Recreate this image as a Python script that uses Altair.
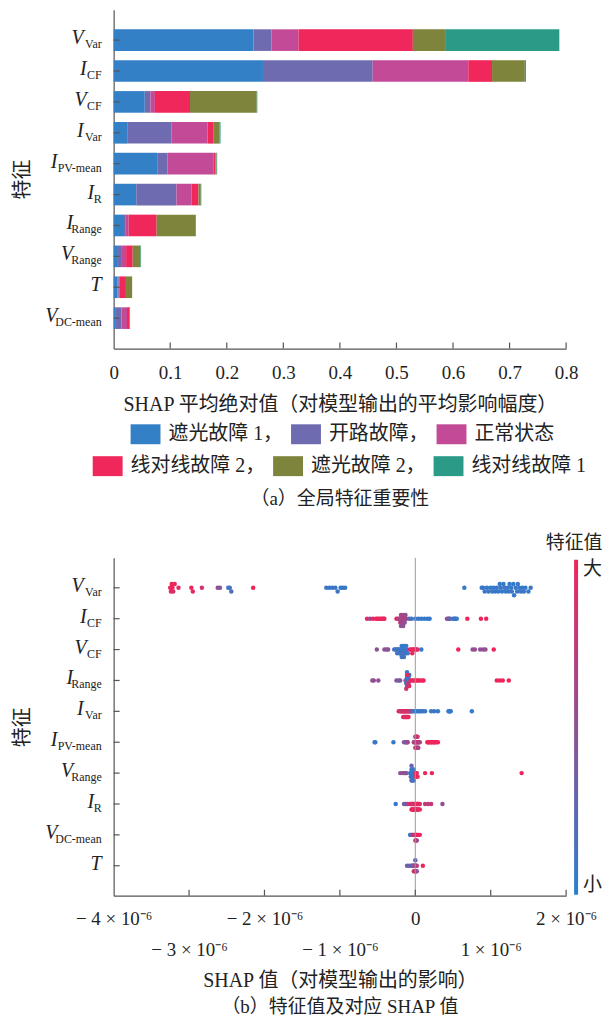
import math
import altair as alt
import pandas as pd
import numpy as np

FONT = "Liberation Serif, Noto Sans CJK SC"
INK = "#222222"
AXIS = "#555555"

# ---------------- panel (a): global feature importance ----------------
features_a = ["V_Var", "I_CF", "V_CF", "I_Var", "I_PV-mean", "I_R", "I_Range", "V_Range", "T", "V_DC-mean"]
classes = ["遮光故障 1", "开路故障", "正常状态", "线对线故障 2", "遮光故障 2", "线对线故障 1"]
class_colors = ["#3480c6", "#6e6bb0", "#c34a97", "#ef275b", "#7e843b", "#2b9b88"]
shade1 = [0.247, 0.264, 0.055, 0.025, 0.077, 0.040, 0.0165, 0.0076, 0.007, 0.004]
open_c = [0.032, 0.194, 0.010, 0.077, 0.018, 0.071, 0.005, 0.0055, 0.002, 0.010]
normal = [0.048, 0.169, 0.008, 0.064, 0.082, 0.027, 0.005, 0.0089, 0.001, 0.0096]
l2l_2 = [0.202, 0.042, 0.062, 0.010, 0.003, 0.012, 0.0495, 0.0117, 0.0117, 0.004]
shade2 = [0.057, 0.058, 0.118, 0.011, 0.002, 0.004, 0.068, 0.0138, 0.011, 0.0014]
l2l_1 = [0.202, 0.002, 0.001, 0.002, 0.001, 0.001, 0.0014, 0.001, 0.0, 0.0]
xticks_a = [0, 0.1, 0.2, 0.3, 0.4, 0.5, 0.6, 0.7, 0.8]

# ---------------- panel (b): beeswarm (SHAP in units of 1e-6, feature value 0..1) ----------------
features_b = ["V_Var", "I_CF", "V_CF", "I_Range", "I_Var", "I_PV-mean", "V_Range", "I_R", "V_DC-mean", "T"]
pts_V_Var = [(-3.25, 1.0), (-3.24, 0.95), (-3.23, 1.0), (-3.22, 1.0), (-3.21, 0.9), (-3.19, 1.0), (-3.14, 0.9),
             (-2.97, 1.0), (-2.95, 0.95), (-2.83, 0.85), (-2.62, 0.55), (-2.59, 0.45), (-2.48, 0.15),
             (-2.46, 0.1), (-2.44, 0.2), (-2.15, 1.0),
             (-1.18, 0.1), (-1.14, 0.05), (-1.10, 0.15), (-1.06, 0.05), (-1.03, 0.1), (-0.99, 0.05),
             (-0.96, 0.1), (-0.93, 0.05), (0.65, 0.05),
             (0.88, 0.05), (0.90, 0.1), (0.92, 0.05), (0.95, 0.05), (0.97, 0.1), (1.00, 0.05), (1.02, 0.1),
             (1.04, 0.05), (1.06, 0.05), (1.08, 0.1), (1.10, 0.05), (1.12, 0.05), (1.13, 0.1), (1.15, 0.05),
             (1.17, 0.05), (1.18, 0.1), (1.20, 0.05), (1.22, 0.05), (1.24, 0.1), (1.25, 0.05), (1.27, 0.05),
             (1.28, 0.1), (1.30, 0.05), (1.31, 0.05), (1.33, 0.1), (1.35, 0.05), (1.36, 0.05), (1.38, 0.1),
             (1.40, 0.05), (1.42, 0.05), (1.44, 0.1), (1.46, 0.05), (1.50, 0.05), (1.53, 0.1)]
pts_I_CF = [(-0.64, 0.95), (-0.60, 0.6), (-0.56, 1.0), (-0.52, 1.0), (-0.50, 1.0), (-0.48, 1.0), (-0.46, 0.9),
            (-0.44, 1.0), (-0.42, 1.0), (-0.41, 0.95), (-0.25, 0.9), (-0.23, 0.8),
            (-0.21, 0.7), (-0.20, 0.6), (-0.20, 0.75), (-0.19, 0.65), (-0.19, 0.5), (-0.18, 0.7), (-0.18, 0.6),
            (-0.17, 0.55), (-0.17, 0.7), (-0.16, 0.6), (-0.16, 0.5), (-0.15, 0.65), (-0.15, 0.55), (-0.14, 0.6),
            (-0.14, 0.5), (-0.13, 0.55), (-0.12, 0.6),
            (-0.08, 0.3), (-0.05, 0.1), (0.00, 0.1), (0.04, 0.1), (0.08, 0.05), (0.12, 0.05), (0.16, 0.05),
            (0.19, 0.05), (0.42, 0.45), (0.44, 0.5), (0.45, 0.4), (0.46, 0.3), (0.50, 0.1), (0.52, 0.05),
            (0.53, 0.1), (0.55, 0.05), (0.69, 1.0), (0.87, 1.0), (0.94, 1.0)]
pts_V_CF = [(-0.51, 0.5), (-0.41, 0.5), (-0.38, 0.55), (-0.36, 0.45),
            (-0.28, 0.2), (-0.26, 0.1), (-0.25, 0.05), (-0.24, 0.1), (-0.23, 0.3), (-0.22, 0.05), (-0.21, 0.1),
            (-0.20, 0.05), (-0.20, 0.1), (-0.19, 0.05), (-0.19, 0.15), (-0.18, 0.05), (-0.18, 0.1), (-0.17, 0.05),
            (-0.17, 0.1), (-0.16, 0.05), (-0.16, 0.2), (-0.15, 0.05), (-0.15, 0.1), (-0.14, 0.05), (-0.14, 0.1),
            (-0.13, 0.05), (-0.13, 0.1), (-0.12, 0.05), (-0.11, 0.1), (-0.10, 0.05),
            (-0.07, 1.0), (-0.05, 0.95), (-0.04, 1.0), (-0.03, 0.9), (-0.02, 1.0), (0.00, 0.95), (0.01, 1.0),
            (0.03, 0.9), (0.08, 0.05), (0.57, 1.0),
            (0.76, 0.5), (0.79, 0.55), (0.86, 0.5), (0.90, 0.55), (0.93, 0.5), (1.04, 1.0)]
pts_I_Range = [(-0.57, 0.5), (-0.55, 0.55), (-0.49, 0.5), (-0.25, 0.5), (-0.22, 0.3), (-0.20, 0.4),
               (-0.13, 0.1), (-0.12, 0.6), (-0.12, 0.1), (-0.11, 0.7), (-0.11, 0.1), (-0.11, 0.5), (-0.10, 0.05),
               (-0.10, 0.8), (-0.10, 0.1), (-0.10, 0.6), (-0.09, 0.1), (-0.09, 0.7), (-0.09, 0.05), (-0.08, 0.9),
               (-0.08, 0.1), (-0.12, 0.8), (-0.11, 0.05), (-0.10, 0.9),
               (-0.06, 1.0), (-0.04, 1.0), (-0.02, 0.95), (0.00, 1.0), (0.02, 1.0), (0.04, 0.95), (0.06, 1.0),
               (0.09, 1.0), (0.11, 1.0), (1.08, 1.0), (1.12, 1.0), (1.16, 1.0), (1.24, 1.0)]
pts_I_Var = [(-0.22, 0.9), (-0.20, 0.8), (-0.19, 1.0), (-0.18, 0.7), (-0.17, 0.9), (-0.16, 1.0), (-0.16, 0.6),
             (-0.15, 0.9), (-0.15, 1.0), (-0.14, 0.7), (-0.14, 0.9), (-0.13, 1.0), (-0.13, 0.6), (-0.12, 0.9),
             (-0.12, 1.0), (-0.11, 0.8), (-0.11, 0.7), (-0.10, 1.0), (-0.10, 0.9), (-0.09, 0.6), (-0.09, 1.0),
             (-0.08, 0.8), (-0.07, 0.9), (-0.06, 0.6), (-0.05, 0.5), (-0.04, 0.4),
             (-0.02, 0.1), (0.00, 0.05), (0.02, 0.1), (0.04, 0.05), (0.06, 0.1), (0.08, 0.05), (0.10, 0.05),
             (0.13, 0.1), (0.21, 0.05), (0.25, 0.1), (0.30, 0.05),
             (0.44, 0.05), (0.45, 0.1), (0.46, 0.05), (0.47, 0.05), (0.75, 0.05)]
pts_I_PV = [(-0.54, 0.05), (-0.53, 0.1), (-0.29, 0.05),
            (-0.15, 0.4), (-0.13, 0.5), (-0.12, 0.3), (-0.11, 0.5), (-0.10, 0.6),
            (-0.02, 0.6), (-0.01, 0.7), (0.00, 0.8), (0.00, 0.6), (0.01, 0.7), (0.01, 0.9), (0.02, 0.6),
            (0.02, 0.8), (0.03, 0.7), (0.03, 0.6), (0.04, 0.8), (0.04, 0.7), (0.05, 0.6), (0.06, 0.7),
            (0.00, 0.7), (0.01, 0.6), (0.02, 0.7), (0.03, 0.8),
            (0.16, 1.0), (0.17, 1.0), (0.18, 0.95), (0.20, 1.0), (0.21, 1.0), (0.22, 0.95), (0.24, 1.0),
            (0.25, 1.0), (0.26, 1.0), (0.28, 0.95), (0.30, 1.0)]
pts_V_Range = [(-0.20, 0.5), (-0.17, 0.55), (-0.15, 0.5), (-0.13, 0.45), (-0.12, 0.5),
               (-0.07, 0.1), (-0.06, 0.05), (-0.06, 0.2), (-0.05, 0.05), (-0.05, 0.1), (-0.05, 0.3),
               (-0.04, 0.05), (-0.04, 0.1), (-0.04, 0.05), (-0.03, 0.1), (-0.03, 0.05), (-0.02, 0.1),
               (-0.02, 0.05), (-0.04, 0.2),
               (0.00, 1.0), (0.01, 0.9), (0.01, 1.0), (0.02, 0.95), (0.03, 1.0), (0.13, 1.0), (0.22, 1.0),
               (1.41, 1.0)]
pts_I_R = [(-0.26, 0.05), (-0.15, 0.4), (-0.13, 0.3), (-0.11, 0.5), (-0.10, 0.6),
           (-0.07, 0.9), (-0.06, 1.0), (-0.05, 0.8), (-0.05, 1.0), (-0.04, 0.9), (-0.04, 1.0), (-0.03, 0.7),
           (-0.03, 1.0), (-0.02, 0.9), (-0.02, 1.0), (-0.01, 0.8), (-0.01, 1.0), (0.00, 0.9), (0.00, 1.0),
           (0.01, 1.0), (0.01, 0.8), (0.02, 1.0), (0.02, 0.9), (0.03, 1.0), (0.03, 0.8), (0.04, 1.0),
           (0.04, 0.9), (0.05, 1.0), (0.06, 0.9), (0.06, 1.0),
           (0.13, 0.8), (0.17, 0.7), (0.21, 0.8), (0.36, 0.5)]
pts_V_DC = [(-0.07, 0.05), (-0.06, 0.1), (-0.05, 0.05),
            (-0.04, 0.6), (-0.03, 0.8), (-0.02, 0.7), (-0.01, 0.9), (0.00, 0.6), (0.00, 1.0), (0.01, 0.8),
            (0.01, 0.7), (0.02, 1.0), (0.02, 0.6), (0.03, 0.9), (0.04, 1.0), (0.06, 1.0)]
pts_T = [(-0.11, 0.3), (-0.08, 0.4), (-0.05, 0.1), (-0.04, 0.3),
         (-0.03, 0.6), (-0.02, 0.5), (-0.02, 0.7), (-0.01, 0.6), (-0.01, 0.9), (0.00, 0.5), (0.00, 0.8),
         (0.01, 0.6), (0.01, 1.0), (0.02, 0.7), (0.02, 0.5), (0.00, 0.3), (0.10, 1.0)]
points_b = [pts_V_Var, pts_I_CF, pts_V_CF, pts_I_Range, pts_I_Var, pts_I_PV, pts_V_Range, pts_I_R, pts_V_DC, pts_T]
xticks_b = [-4, -3, -2, -1, 0, 1, 2]


def split_name(f):
    parts = f.split("_", 1)
    return parts[0], (parts[1] if len(parts) > 1 else "")


# ---- build tables ----
rows = []
for ci, (cls, vals) in enumerate(zip(classes, [shade1, open_c, normal, l2l_2, shade2, l2l_1])):
    for f, v in zip(features_a, vals):
        rows.append({"feature": f, "cls": cls, "ci": ci, "value": v})
df_a = pd.DataFrame(rows)

lab_a = pd.DataFrame([{"feature": f, "main": split_name(f)[0], "sub": split_name(f)[1]} for f in features_a])
lab_b = pd.DataFrame([{"feature": f, "row": i, "main": split_name(f)[0], "sub": split_name(f)[1]}
                      for i, f in enumerate(features_b)])


def shap_swarm(xs, row_height=0.4, nbins=100):
    """SHAP-style beeswarm layout: bin x, alternate points up/down in each bin."""
    xs = np.asarray(xs, dtype=float)
    n = len(xs)
    quant = np.round(nbins * (xs - xs.min()) / (xs.max() - xs.min() + 1e-8))
    inds = np.argsort(quant, kind="stable")
    layer, last_bin = 0, -1
    ys = np.zeros(n)
    for ind in inds:
        if quant[ind] != last_bin:
            layer = 0
        ys[ind] = math.ceil(layer / 2) * ((layer % 2) * 2 - 1)
        layer += 1
        last_bin = quant[ind]
    ys *= 0.9 * (row_height / np.max(ys + 1))
    return ys


brows = []
for i, (f, pts) in enumerate(zip(features_b, points_b)):
    xs = [p[0] for p in pts]
    offs = shap_swarm(xs)
    for (x, c), o in zip(pts, offs):
        brows.append({"feature": f, "row": i, "shap": x, "val": c, "yv": i + o})
df_b = pd.DataFrame(brows)


def label_layers(df, yenc):
    base = alt.Chart(df).transform_calculate(
        sw="5.3*length(datum.sub) + 2.2*length(replace(datum.sub, regexp('[^A-Z]','g'), ''))"
           " + 3*length(replace(datum.sub, regexp('[^m]','g'), ''))"
    ).transform_calculate(mx="-12 - datum.sw")
    main = base.mark_text(font=FONT, fontSize=20, fontStyle="italic", align="right",
                          baseline="alphabetic", dy=4, color=INK).encode(
        x=alt.X("mx:Q", scale=None), y=yenc, text="main:N")
    sub = base.mark_text(font=FONT, fontSize=12, align="right", baseline="alphabetic",
                         dy=8, color=INK).encode(x=alt.value(-12), y=yenc, text="sub:N")
    return main, sub


# ---------------- panel (a) chart ----------------
W = 454
HA = 340
xscale_a = alt.Scale(domain=[0, 0.8], nice=False, zero=True)
yscale_a = alt.Scale(domain=features_a, paddingInner=0.3, paddingOuter=0.635)

xaxis_a = alt.Axis(values=xticks_a, format=".1~f", labelFlush=False, labelOverlap=False, ticks=False,
                   grid=False, labelFontSize=19, labelPadding=15,
                   title="SHAP 平均绝对值（对模型输出的平均影响幅度）", titleFontSize=20, titlePadding=12,
                   titleFontWeight="normal")
yaxis_a = alt.Axis(labels=False, ticks=False, grid=False, title="特征", titleFontSize=20, titlePadding=81,
                   titleFontWeight="normal")

legend_expr = "datum.label == '正常状态' || datum.label == '线对线故障 1' ? datum.label : datum.label + '，'"


def bar_legend(lx, ly):
    return alt.Legend(orient="none", legendX=lx, legendY=ly, direction="horizontal", title=None,
                      symbolType="M-1.5,-1L1.5,-1L1.5,1L-1.5,1Z", symbolSize=400, symbolStrokeWidth=0,
                      symbolOpacity=1, labelFontSize=20, labelFont=FONT, labelColor=INK, labelOffset=13,
                      columnPadding=8, padding=0, labelLimit=300, labelExpr=legend_expr)


base_a = alt.Chart(df_a).transform_stack(
    stack="value", groupby=["feature"], as_=["x0", "x1"], sort=[alt.SortField("ci", order="ascending")])

bars1 = base_a.transform_filter("datum.ci < 3").mark_bar().encode(
    x=alt.X("x0:Q", scale=xscale_a, axis=xaxis_a), x2="x1:Q",
    y=alt.Y("feature:N", scale=yscale_a, axis=yaxis_a),
    fill=alt.Fill("cls:N", scale=alt.Scale(domain=classes[:3], range=class_colors[:3]),
                  legend=bar_legend(22, 416)))
bars2 = base_a.transform_filter("datum.ci >= 3").mark_bar().encode(
    x=alt.X("x0:Q", scale=xscale_a), x2="x1:Q",
    y=alt.Y("feature:N", scale=yscale_a),
    fill=alt.Fill("cls:N", scale=alt.Scale(domain=classes[3:], range=class_colors[3:]),
                  legend=bar_legend(-16, 448)))
xt_a = alt.Chart(pd.DataFrame({"t": xticks_a[1:]})).mark_rule(color=AXIS, strokeWidth=1.2).encode(
    x=alt.X("t:Q", scale=xscale_a), y=alt.value(HA), y2=alt.value(HA - 6))
yt_a = alt.Chart(lab_a).mark_rule(color=AXIS, strokeWidth=1.2).encode(
    y=alt.Y("feature:N", scale=yscale_a, bandPosition=0.5), x=alt.value(0), x2=alt.value(6))
main_a, sub_a = label_layers(lab_a, alt.Y("feature:N", scale=yscale_a))

top = alt.layer(bars1, bars2, xt_a, yt_a, main_a, sub_a).resolve_scale(fill="independent").resolve_legend(
    fill="independent").properties(
    width=W, height=HA,
    title=alt.TitleParams("（a）全局特征重要性", orient="bottom", anchor="middle", fontSize=19, offset=14,
                          font=FONT, fontWeight="normal", color=INK))

# ---------------- panel (b) chart ----------------
HB = 339
xscale_b = alt.Scale(domain=[-4, 2], nice=False, zero=False)
yscale_b = alt.Scale(domain=[-0.97, 9.97], reverse=True, nice=False, zero=False)

lbl = "(datum.value == 0 ? '0' : (datum.value < 0 ? '− ' : '') + abs(datum.value) + ' × 10⁻⁶')"
xaxis_b = alt.Axis(values=xticks_b, labelExpr=f"abs(datum.value) % 2 == 1 ? ['', {lbl}] : {lbl}",
                   labelFlush=False, labelOverlap=False, ticks=False, grid=False, labelFontSize=19,
                   labelPadding=14, labelLineHeight=31, title="SHAP 值（对模型输出的影响）", titleFontSize=20,
                   titlePadding=11, titleFontWeight="normal")
yaxis_b = alt.Axis(labels=False, ticks=False, grid=False, title="特征", titleFontSize=20, titlePadding=81,
                   titleFontWeight="normal")

dots = alt.Chart(df_b).mark_circle(size=20, opacity=1).encode(
    x=alt.X("shap:Q", scale=xscale_b, axis=xaxis_b),
    y=alt.Y("yv:Q", scale=yscale_b, axis=yaxis_b),
    color=alt.Color("val:Q", scale=alt.Scale(domain=[0, 1], range=["#2b7fd0", "#f0245b"], interpolate="rgb"),
                    legend=alt.Legend(orient="none", legendX=462, legendY=2, direction="vertical",
                                      title=None, gradientLength=336, gradientThickness=4,
                                      gradientStrokeWidth=0, values=[0, 1],
                                      labelExpr="datum.value >= 0.5 ? '大' : '小'",
                                      labelFontSize=19, labelFont=FONT, labelColor=INK, labelOffset=5,
                                      padding=0)))
cbar_title = alt.Chart(pd.DataFrame({"t": ["特征值"]})).mark_text(
    font=FONT, fontSize=19, align="center", baseline="middle", color=INK).encode(
    text="t:N", x=alt.value(462), y=alt.value(-15))
zero_line = alt.Chart(pd.DataFrame({"z": [0]})).mark_rule(color="#9a9a9a", strokeWidth=1).encode(
    x=alt.X("z:Q", scale=xscale_b))
xt_b = alt.Chart(pd.DataFrame({"t": xticks_b[1:]})).mark_rule(color=AXIS, strokeWidth=1.2).encode(
    x=alt.X("t:Q", scale=xscale_b), y=alt.value(HB), y2=alt.value(HB - 6))
yt_b = alt.Chart(lab_b).mark_rule(color=AXIS, strokeWidth=1.2).encode(
    y=alt.Y("row:Q", scale=yscale_b), x=alt.value(0), x2=alt.value(6))
main_b, sub_b = label_layers(lab_b, alt.Y("row:Q", scale=yscale_b))

bottom = alt.layer(dots, zero_line, xt_b, yt_b, main_b, sub_b, cbar_title).properties(
    width=W, height=HB,
    title=alt.TitleParams("（b）特征值及对应 SHAP 值", orient="bottom", anchor="middle", fontSize=19, offset=8,
                          font=FONT, fontWeight="normal", color=INK))

chart = alt.vconcat(top, bottom, spacing=210, bounds="flush").resolve_scale(
    color="independent", fill="independent").resolve_legend(color="independent", fill="independent").properties(
    padding={"left": 5, "top": 0, "right": 0, "bottom": 0}
).configure_view(stroke=None).configure_axis(
    domainColor=AXIS, domainWidth=1.2, labelFont=FONT, titleFont=FONT, labelColor=INK, titleColor=INK
).configure_legend(labelFont=FONT, titleFont=FONT)

chart.save("out.html", embed_options={"renderer": "svg", "actions": False})
